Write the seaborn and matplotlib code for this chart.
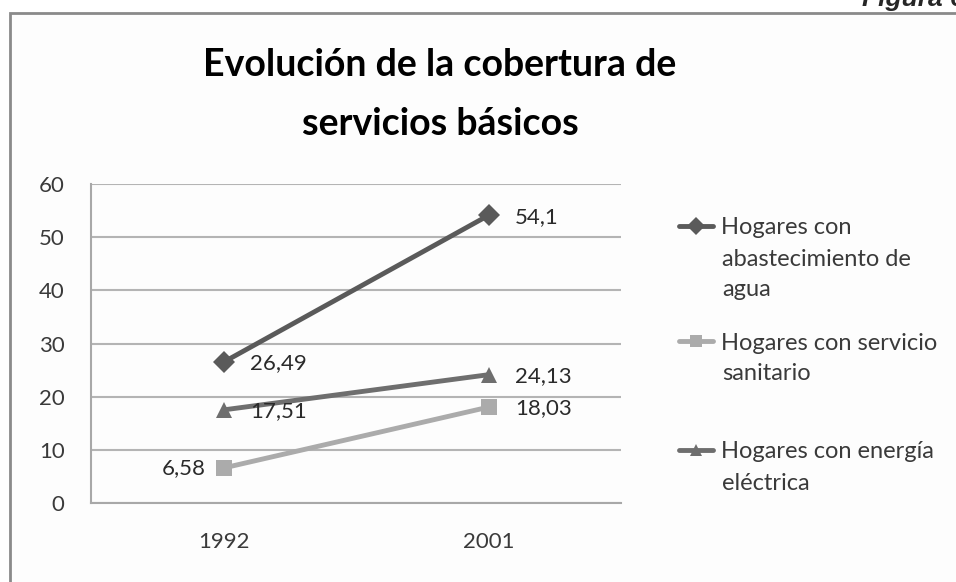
"""Evolución de la cobertura de servicios básicos (1992 - 2001)."""

import matplotlib.pyplot as plt
import pandas as pd
import seaborn as sns
from matplotlib.patches import Rectangle

years = ["1992", "2001"]
series_names = [
    "Hogares con\nabastecimiento de\nagua",
    "Hogares con servicio\nsanitario",
    "Hogares con energía\neléctrica",
]
agua = [26.49, 54.1]
sanitario = [6.58, 18.03]
energia = [17.51, 24.13]

colors = ["#5a5a5a", "#ababab", "#6e6e6e"]
markers = ["D", "s", "^"]

df = pd.DataFrame(
    {
        "year": years * 3,
        "value": agua + sanitario + energia,
        "serie": [name for name in series_names for _ in years],
    }
)

sns.set_style("white")
plt.rcParams["font.family"] = ["Lato", "DejaVu Sans"]

fig = plt.figure(figsize=(9.56, 5.82), dpi=100)
fig.patch.set_facecolor("white")

# chart frame, cut off on the right and bottom like the scanned figure
fig.patches.append(
    Rectangle(
        (10 / 956, -0.1), 1.2, 1.1 - 13 / 582,
        transform=fig.transFigure, facecolor="#fdfdfd",
        edgecolor="#8a8a8a", linewidth=2, zorder=-5,
    )
)

ax = fig.add_axes([91 / 956, 79 / 582, 530 / 956, 319 / 582])
ax.set_facecolor("none")

sns.lineplot(
    data=df, x="year", y="value", hue="serie", style="serie",
    palette=colors, markers=markers, dashes=False, linewidth=3.5,
    markersize=11, markeredgewidth=0, ax=ax, legend=False,
)

ax.set_xlim(-0.5, 1.5)
ax.set_ylim(0, 60)
ax.set_yticks(range(0, 61, 10))
ax.grid(axis="y", color="#b4b4b4", linewidth=1.5)
ax.set_axisbelow(True)
for side in ["top", "right"]:
    ax.spines[side].set_visible(False)
for side in ["left", "bottom"]:
    ax.spines[side].set_color("#a8a8a8")
    ax.spines[side].set_linewidth(1.5)
ax.tick_params(axis="y", length=0, pad=19, labelsize=16, labelcolor="#3a3a3a")
ax.tick_params(axis="x", length=0, pad=21, labelsize=16, labelcolor="#3a3a3a")
ax.set_xlabel("")
ax.set_ylabel("")

# data labels
for values in [agua, sanitario, energia]:
    for year, v in zip(years, values):
        text = f"{v:g}".replace(".", ",")
        if v == sanitario[0]:
            offset, ha = (-13, 0), "right"
        else:
            offset, ha = (19, -1), "left"
        ax.annotate(
            text, (year, v), xytext=offset, textcoords="offset points",
            ha=ha, va="center", fontsize=16, color="#2a2a2a",
        )

# legend
handles = [
    plt.Line2D([], [], color=c, marker=m, linewidth=3.5, markersize=9,
               markeredgewidth=0)
    for c, m in zip(colors, markers)
]
leg_y = [228, 343, 452]
for h, name, y in zip(handles, series_names, leg_y):
    first, *rest = name.split("\n")
    fig.legend(
        [h], [first], loc="center left", bbox_to_anchor=(667 / 956, 1 - y / 582),
        frameon=False, fontsize=17, handlelength=1.45, handletextpad=0.35,
        borderpad=0, labelcolor="#3a3a3a",
    )
    for i, line in enumerate(rest):
        fig.text(722 / 956, 1 - (y + 31 * (i + 1)) / 582, line, fontsize=17,
                 color="#3a3a3a", va="center", ha="left")

fig.text(440 / 956, 1 - 48 / 582,
         "Evolución de la cobertura de\nservicios básicos",
         ha="center", va="top", fontsize=27, fontweight="bold",
         linespacing=1.9, color="black")

fig.text(862 / 956, 1 - 6 / 582, "Figura 6", fontsize=19,
         fontweight="bold", fontstyle="italic", family="Liberation Sans",
         va="baseline", ha="left")

fig.savefig("out.png", dpi=100)
